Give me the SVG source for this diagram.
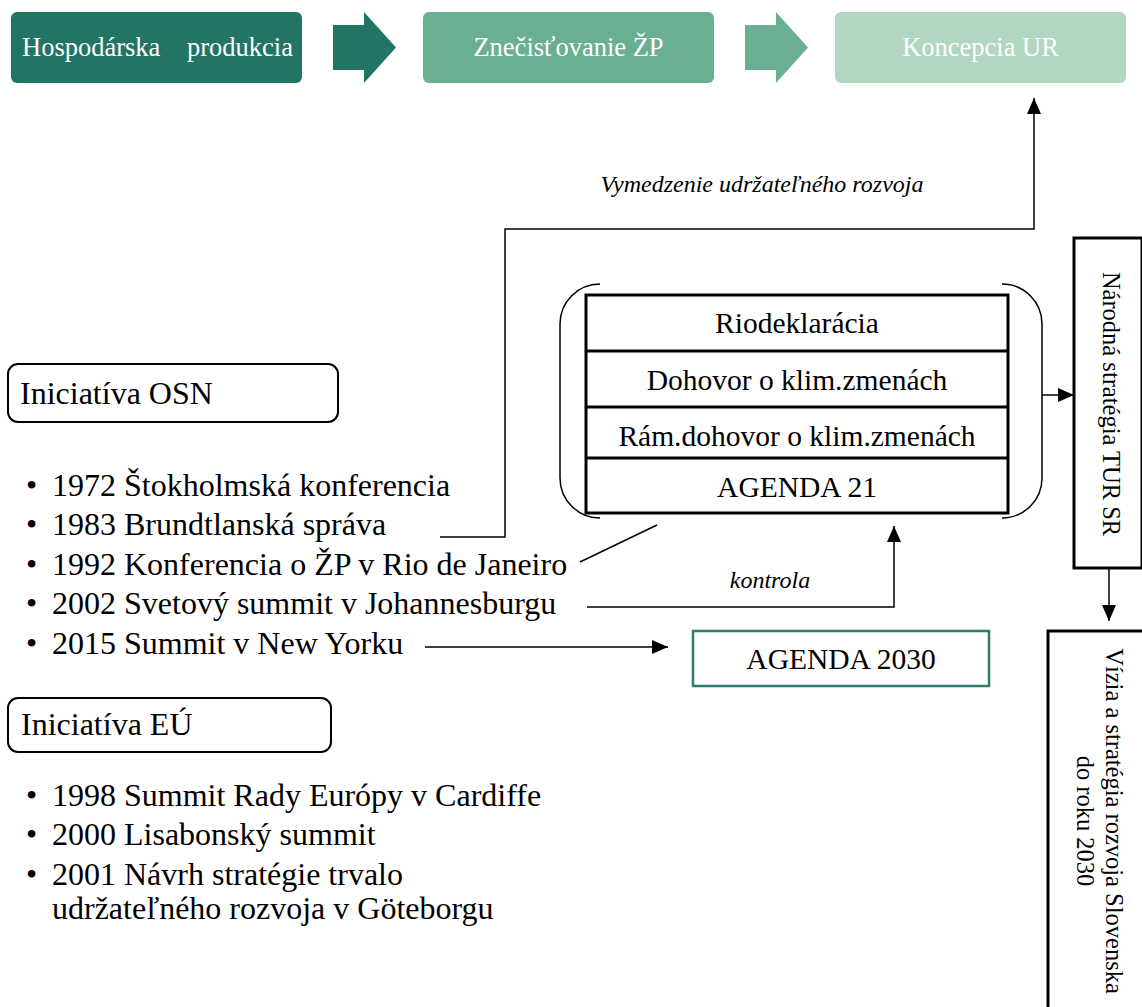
<svg xmlns="http://www.w3.org/2000/svg" width="1142" height="1007" viewBox="0 0 1142 1007">
<style>
text{font-family:"Liberation Serif","Times New Roman",serif;fill:#000}
.top{font-size:26.5px;fill:#fff}
.list{font-size:32px}
.cell{font-size:29.5px;text-anchor:middle}
.lbl{font-size:24px;font-style:italic;text-anchor:middle}
.vert{font-size:24.5px;text-anchor:middle}
.conn{fill:none;stroke:#000;stroke-width:1.5}
.frame{fill:#fff;stroke:#000;stroke-width:2}
</style>
<defs>
<marker id="ah" viewBox="0 0 16 14" refX="16" refY="7" markerWidth="16" markerHeight="14" orient="auto" markerUnits="userSpaceOnUse"><path d="M0,0 L16,7 L0,14 z" fill="#000"/></marker>
</defs>
<rect width="1142" height="1007" fill="#fff"/>

<g id="hospodarska">
<rect x="11" y="12" width="291" height="71" rx="6" fill="#227565"/>
<text class="top" x="22" y="56">Hospodárska</text>
<text class="top" x="293" y="56" text-anchor="end">produkcia</text>
</g>
<g id="arrow1"><path d="M333,25 L364,25 L364,12 L396,47.5 L364,83 L364,70 L333,70 z" fill="#227565"/></g>
<g id="znecistovanie">
<rect x="423" y="12" width="291" height="71" rx="6" fill="#6aaf92"/>
<text class="top" x="568.5" y="56" text-anchor="middle">Znečisťovanie ŽP</text>
</g>
<g id="arrow2"><path d="M745,25 L776,25 L776,12 L808,47.5 L776,83 L776,70 L745,70 z" fill="#6aaf92"/></g>
<g id="koncepcia">
<rect x="835" y="12" width="291" height="71" rx="6" fill="#b3d6c2"/>
<text class="top" x="980.5" y="56" text-anchor="middle">Koncepcia UR</text>
</g>

<g id="iniciativa-osn">
<rect x="8" y="364" width="330" height="58" rx="10" class="frame"/>
<text x="20" y="404" font-size="32">Iniciatíva OSN</text>
</g>
<g id="osn-list">
<text class="list" x="26" y="496">•</text><text class="list" x="52" y="496">1972 Štokholmská konferencia</text>
<text class="list" x="26" y="535">•</text><text class="list" x="52" y="535">1983 Brundtlanská správa</text>
<text class="list" x="26" y="575">•</text><text class="list" x="52" y="575">1992 Konferencia o ŽP v Rio de Janeiro</text>
<text class="list" x="26" y="614">•</text><text class="list" x="52" y="614">2002 Svetový summit v Johannesburgu</text>
<text class="list" x="26" y="654">•</text><text class="list" x="52" y="654">2015 Summit v New Yorku</text>
</g>

<g id="iniciativa-eu">
<rect x="8" y="698" width="323" height="54" rx="10" class="frame"/>
<text x="21" y="735" font-size="32">Iniciatíva EÚ</text>
</g>
<g id="eu-list">
<text class="list" x="26" y="806">•</text><text class="list" x="52" y="806">1998 Summit Rady Európy v Cardiffe</text>
<text class="list" x="26" y="845">•</text><text class="list" x="52" y="845">2000 Lisabonský summit</text>
<text class="list" x="26" y="885">•</text><text class="list" x="52" y="885">2001 Návrh stratégie trvalo</text>
<text class="list" x="52" y="919">udržateľného rozvoja v Göteborgu</text>
</g>

<g id="rio-group">
<path d="M600,284 A40,40 0 0 0 560,324 L560,478 A40,40 0 0 0 600,518" class="conn"/>
<path d="M1002,284 A40,40 0 0 1 1042,324 L1042,478 A40,40 0 0 1 1002,518" class="conn"/>
<rect x="586" y="295" width="422" height="218" fill="#fff" stroke="#000" stroke-width="3"/>
<line x1="586" y1="351" x2="1008" y2="351" stroke="#000" stroke-width="3"/>
<line x1="586" y1="407" x2="1008" y2="407" stroke="#000" stroke-width="3"/>
<line x1="586" y1="458" x2="1008" y2="458" stroke="#000" stroke-width="3"/>
<text class="cell" x="797" y="333">Riodeklarácia</text>
<text class="cell" x="797" y="390">Dohovor o klim.zmenách</text>
<text class="cell" x="797" y="446">Rám.dohovor o klim.zmenách</text>
<text class="cell" x="797" y="497">AGENDA 21</text>
</g>

<g id="agenda2030">
<rect x="693" y="631" width="296" height="55" fill="#fff" stroke="#2f7b6c" stroke-width="2.5"/>
<text class="cell" x="841" y="669">AGENDA 2030</text>
</g>

<g id="tur-sr">
<rect x="1074" y="238" width="68" height="330" fill="#fff" stroke="#000" stroke-width="3"/>
<text class="vert" transform="translate(1103,404) rotate(90)">Národná stratégia TUR SR</text>
</g>
<g id="vizia">
<rect x="1048" y="631" width="96" height="380" fill="#fff" stroke="#000" stroke-width="3"/>
<text class="vert" transform="translate(1106,821) rotate(90)">Vízia a stratégia rozvoja Slovenska</text>
<text class="vert" transform="translate(1077,821) rotate(90)">do roku 2030</text>
</g>

<g id="connectors">
<polyline points="440,537 505,537 505,229 1034,229 1034,98" class="conn" marker-end="url(#ah)"/>
<line x1="580" y1="562" x2="657" y2="525" class="conn"/>
<polyline points="587,607 894,607 894,526" class="conn" marker-end="url(#ah)"/>
<line x1="425" y1="647" x2="668" y2="647" class="conn" marker-end="url(#ah)"/>
<line x1="1042" y1="395" x2="1074" y2="395" class="conn" marker-end="url(#ah)"/>
<line x1="1109" y1="568" x2="1109" y2="621" class="conn" marker-end="url(#ah)"/>
<text class="lbl" x="762" y="192">Vymedzenie udržateľného rozvoja</text>
<text class="lbl" x="770" y="588">kontrola</text>
</g>
</svg>
